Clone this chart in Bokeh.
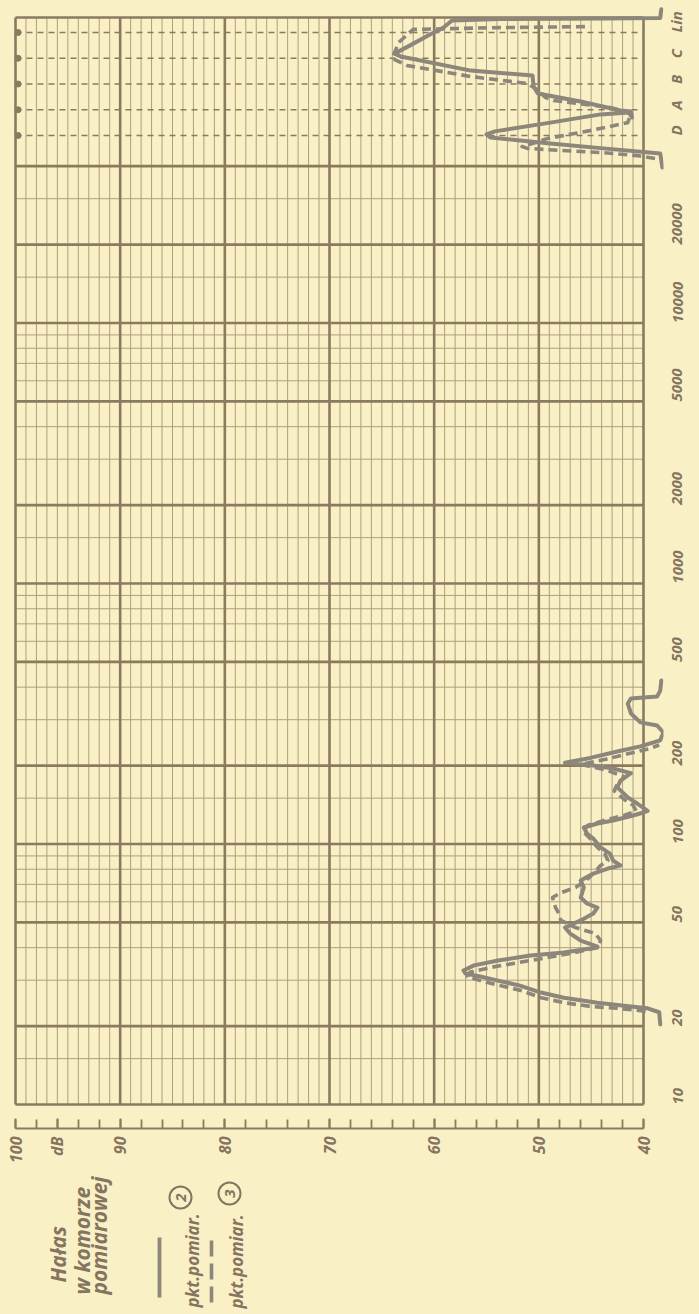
import math
from bokeh.plotting import figure
from bokeh.layouts import column
from bokeh.models import Range1d, FixedTicker
from bokeh.core.properties import value
from bokeh.embed import file_html
from bokeh.resources import INLINE

# ---------------- data ----------------
freq_ticks = [10, 20, 50, 100, 200, 500, 1000, 2000, 5000, 10000, 20000]
freq_tick_labels = ["10", "20", "50", "100", "200", "500", "1000", "2000", "5000", "10000", "20000"]
band_labels = ["D", "A", "B", "C", "Lin"]
db_ticks = [100, 90, 80, 70, 60, 50, 40]
db_tick_labels = ["100", "90", "80", "70", "60", "50", "40"]
db_unit_tick = 96
db_unit_label = "dB"
title_lines = ["Hałas", "w komorze", "pomiarowej"]
legend_texts = ["pkt.pomiar.", "pkt.pomiar."]
legend_numbers = ["2", "3"]

# pkt. pomiar. 2 (solid) - spectrum: frequency [Hz], level [dB]
p2_freq = [20.3, 22.6, 23.4, 23.8, 24.6, 25.7, 26.9, 28.6, 29.9, 31.0, 31.8, 32.7, 34.2, 35.7,
           37.3, 38.3, 39.7, 40.4, 42.6, 45.3, 47.8, 50.9, 54.1, 57.0, 59.1, 62.3, 68.1, 72.4,
           77.0, 80.5, 82.7, 86.4, 91.9, 97.0, 104.9, 109.7, 115.7, 119.9, 123.1, 128.7, 132.1,
           134.0, 143, 151, 165, 175, 187, 195, 201, 205, 214, 228, 237, 250, 268, 285, 293,
           317, 346, 362, 365, 368, 388, 424]
p2_db = [38.4, 38.5, 39.6, 41.2, 44.4, 47.6, 49.8, 51.8, 53.9, 55.6, 57.0, 57.2, 56.2, 53.9,
         50.8, 47.6, 45.1, 44.4, 46.0, 47.0, 47.5, 46.0, 44.8, 44.4, 45.4, 46.0, 45.7, 46.0,
         44.8, 43.4, 42.2, 42.9, 43.2, 44.1, 44.8, 45.4, 45.7, 44.4, 42.9, 41.0, 40.0,
         39.6, 40.6, 41.5, 42.5, 42.2, 41.2, 42.9, 45.1, 47.5, 45.1, 42.2, 40.3, 38.4, 38.1,
         38.7, 40.3, 41.2, 41.5, 41.2, 40.0, 38.7, 38.4, 38.3]

# pkt. pomiar. 3 (dashed) - spectrum
p3_freq = [22.8, 23.4, 23.8, 24.6, 25.7, 27.4, 28.6, 29.9, 31.0, 32.2, 33.6, 35.7, 38.0, 40.0,
           42.6, 45.3, 47.8, 50.9, 54.1, 57.0, 62.3, 65.0, 68.1, 72.4, 77.0, 82.7, 86.4, 91.9,
           97.0, 104.9, 112, 118, 123, 129, 134, 141, 148, 160, 170, 181, 192, 202, 212, 222,
           232, 240]
p3_db = [39.8, 42.5, 45.1, 47.6, 49.8, 51.7, 53.7, 55.6, 56.8, 56.6, 54.6, 50.8, 47.0, 44.4,
         44.1, 44.6, 46.5, 47.9, 48.1, 48.4, 48.7, 47.9, 46.5, 45.5, 44.8, 44.1, 43.4, 43.7,
         44.4, 45.1, 45.8, 45.3, 43.8, 41.8, 40.7, 41.0, 41.8, 42.8, 42.5, 41.8, 43.5, 46.0,
         43.5, 41.5, 39.5, 38.5]

# weighted levels: band position (0 = D, 1 = A, 2 = B, 3 = C, 4 = Lin), level [dB]
p2_band_pos = [-1.24, -0.70, -0.49, -0.31, -0.08, 0.04, 0.16, 0.50, 0.82, 0.89, 0.70, 0.93,
               0.97, 1.32, 1.63, 1.90, 2.33, 2.52, 3.07, 3.18, 3.50, 3.92, 4.19, 4.47, 4.52,
               4.54, 4.56, 4.90]
p2_band_db = [38.2, 38.4, 44.1, 48.9, 54.6, 55.0, 54.2, 48.9, 44.1, 41.4, 41.1, 41.2,
              42.2, 46.0, 50.1, 50.5, 50.6, 56.5, 63.2, 63.8, 62.3, 60.4, 59.1, 58.3, 53.7,
              44.1, 38.4, 38.3]
p3_band_pos = [-0.89, -0.78, -0.66, -0.58, -0.50, -0.43, -0.27, -0.12, 0.19, 0.50, 0.86, 1.09,
               1.36, 1.48, 1.75, 1.94, 2.02, 2.29, 2.72, 2.99, 3.61, 4.12, 4.19, 4.23]
p3_band_db = [38.9, 40.6, 44.1, 47.9, 51.1, 51.6, 50.3, 49.2, 45.1, 41.5, 41.2, 43.2,
              48.6, 49.4, 50.0, 50.8, 51.1, 56.5, 62.6, 64.0, 63.4, 62.0, 53.7, 45.1]

# ---------------- style / layout ----------------
PAPER = "#FAF0C5"
GRID_MINOR = "#AE9E82"
GRID_MAJOR = "#8C7A5F"
PEN = "#8D867A"
INK = "#857460"
FONT = "Open Sans"

W = 699
BORDER_L, BORDER_R = 10, 36
H1, H2, H3 = 1106, 60, 148

PX_DEC = 260.5          # pixels per decade of frequency
Y_10HZ = 1104           # page row of 10 Hz
DB_PX = 628 / 60.0      # pixels per dB


def f_at(y_page):
    return 10 ** (1 + (Y_10HZ - y_page) / PX_DEC)


def band_f(v):
    return f_at(135 - 25.75 * v)


F_MAX = 40000
F_TOP = f_at(17)
band_ticks = [int(round(band_f(i))) for i in range(len(band_labels))]

frame_left = BORDER_L
frame_right = W - BORDER_R
xr = Range1d(100 + (15 - frame_left) / DB_PX, 100 - (frame_right - 15) / DB_PX)
yr = Range1d(f_at(H1), f_at(0))

# ---------------- main chart ----------------
p1 = figure(width=W, height=H1, x_range=xr, y_range=yr, y_axis_type="log",
            x_axis_location=None, y_axis_location="right",
            toolbar_location=None, output_backend="svg",
            min_border_left=BORDER_L, min_border_right=BORDER_R,
            min_border_top=0, min_border_bottom=0,
            background_fill_color=PAPER, border_fill_color=PAPER,
            outline_line_color=None)
p1.grid.visible = False

db_major = list(range(40, 101, 10))
db_minor = [d for d in range(41, 100) if d % 10]
freq_major = [10, 20, 50, 100, 200, 500, 1000, 2000, 5000, 10000, 20000, F_MAX, F_TOP]
freq_minor = [m * dec for dec in (10, 100, 1000, 10000)
              for m in (1.5, 3, 4, 6, 7, 8, 9) if m * dec < F_MAX]

p1.segment(x0=db_minor, y0=[10] * len(db_minor), x1=db_minor, y1=[F_TOP] * len(db_minor),
           line_color=GRID_MINOR, line_width=1)
p1.segment(x0=[100] * len(freq_minor), y0=freq_minor, x1=[40] * len(freq_minor), y1=freq_minor,
           line_color=GRID_MINOR, line_width=1)
p1.segment(x0=[100] * len(band_ticks), y0=band_ticks, x1=[40] * len(band_ticks), y1=band_ticks,
           line_color=GRID_MAJOR, line_width=1.4, line_dash="6 5")
p1.segment(x0=[100] * len(freq_major), y0=freq_major, x1=[40] * len(freq_major), y1=freq_major,
           line_color=GRID_MAJOR, line_width=2.6)
p1.segment(x0=db_major, y0=[10] * len(db_major), x1=db_major, y1=[F_TOP] * len(db_major),
           line_color=GRID_MAJOR, line_width=2.6)
p1.scatter(x=[99.75] * len(band_ticks), y=band_ticks, size=6, marker="circle",
           color=GRID_MAJOR)

# curves
p1.line(p2_db, p2_freq, line_color=PEN, line_width=4, line_join="round", line_cap="round")
p1.line(p3_db, p3_freq, line_color=PEN, line_width=3.6, line_dash="9 5", line_join="round")
p1.line(p2_band_db, [band_f(v) for v in p2_band_pos], line_color=PEN, line_width=4,
        line_join="round", line_cap="round")
p1.line(p3_band_db, [band_f(v) for v in p3_band_pos], line_color=PEN, line_width=3.6,
        line_dash="9 5", line_join="round")

ax = p1.yaxis[0]
ax.ticker = FixedTicker(ticks=freq_ticks + band_ticks, minor_ticks=[])
overrides = {t: s for t, s in zip(freq_ticks, freq_tick_labels)}
overrides.update({t: s for t, s in zip(band_ticks, band_labels)})
ax.major_label_overrides = overrides
ax.axis_line_color = None
ax.major_tick_line_color = None
ax.minor_tick_line_color = None
ax.major_tick_in = 0
ax.major_tick_out = 0
ax.minor_tick_in = 0
ax.minor_tick_out = 0
ax.major_label_standoff = 13
ax.major_label_orientation = math.pi / 2
ax.major_label_text_font = FONT
ax.major_label_text_font_style = "bold italic"
ax.major_label_text_font_size = "15px"
ax.major_label_text_color = INK

# ---------------- dB scale ----------------
p2 = figure(width=W, height=H2, x_range=xr, y_range=Range1d(0, 1),
            x_axis_location="below", y_axis_location=None,
            toolbar_location=None, output_backend="svg",
            min_border_left=BORDER_L, min_border_right=BORDER_R,
            min_border_top=0, min_border_bottom=38,
            background_fill_color=PAPER, border_fill_color=PAPER,
            outline_line_color=None)
p2.grid.visible = False
bx = p2.xaxis[0]
bx.ticker = FixedTicker(ticks=db_ticks + [db_unit_tick], minor_ticks=list(range(40, 101, 2)))
db_over = {t: s for t, s in zip(db_ticks, db_tick_labels)}
db_over[db_unit_tick] = db_unit_label
bx.major_label_overrides = db_over
bx.bounds = (40, 100)
bx.axis_line_color = GRID_MAJOR
bx.axis_line_width = 2.2
bx.major_tick_line_color = GRID_MAJOR
bx.major_tick_line_width = 2
bx.minor_tick_line_color = GRID_MAJOR
bx.minor_tick_line_width = 1.8
bx.major_tick_in = 10
bx.major_tick_out = 0
bx.minor_tick_in = 9
bx.minor_tick_out = 0
bx.major_label_standoff = 8
bx.major_label_orientation = math.pi / 2
bx.major_label_text_font = FONT
bx.major_label_text_font_style = "bold italic"
bx.major_label_text_font_size = "16px"
bx.major_label_text_color = INK

# ---------------- title and legend ----------------
PAGE_BOTTOM = H1 + H2 + H3
p3 = figure(width=W, height=H3, x_range=Range1d(frame_left, frame_right),
            y_range=Range1d(0, H3), x_axis_location=None, y_axis_location=None,
            toolbar_location=None, output_backend="svg",
            min_border_left=BORDER_L, min_border_right=BORDER_R,
            min_border_top=0, min_border_bottom=0,
            background_fill_color=PAPER, border_fill_color=PAPER,
            outline_line_color=None)
p3.grid.visible = False


def up(y_page):
    return PAGE_BOTTOM - y_page


p3.text(x=[57, 81, 98], y=[up(1282), up(1294), up(1294)], text=title_lines,
        angle=math.pi / 2, text_font=value(FONT), text_font_style="bold italic",
        text_font_size="21px", text_color=INK, text_align="left",
        text_baseline="alphabetic")

p3.line([159, 159], [up(1237), up(1297)], line_color=PEN, line_width=3.8)
p3.line([211, 211], [up(1240), up(1303)], line_color=PEN, line_width=3.6, line_dash="16 7")

p3.text(x=[192, 236], y=[up(1307), up(1308)], text=legend_texts,
        angle=math.pi / 2, text_font=value(FONT), text_font_style="bold italic",
        text_font_size="17px", text_color=INK, text_align="left",
        text_baseline="alphabetic")
p3.circle(x=[180, 229], y=[up(1197), up(1193)], radius=11, fill_color=None,
          line_color=INK, line_width=2)
p3.text(x=[180, 229], y=[up(1197), up(1193)], text=legend_numbers,
        angle=math.pi / 2, text_font=value(FONT), text_font_style="bold italic",
        text_font_size="15px", text_color=INK, text_align="center",
        text_baseline="middle")

layout = column(p1, p2, p3, spacing=0)
html = file_html(layout, INLINE)
html = html.replace("<body>", '<body style="background-color:%s;">' % PAPER)
open("out.html", "w").write(html)
